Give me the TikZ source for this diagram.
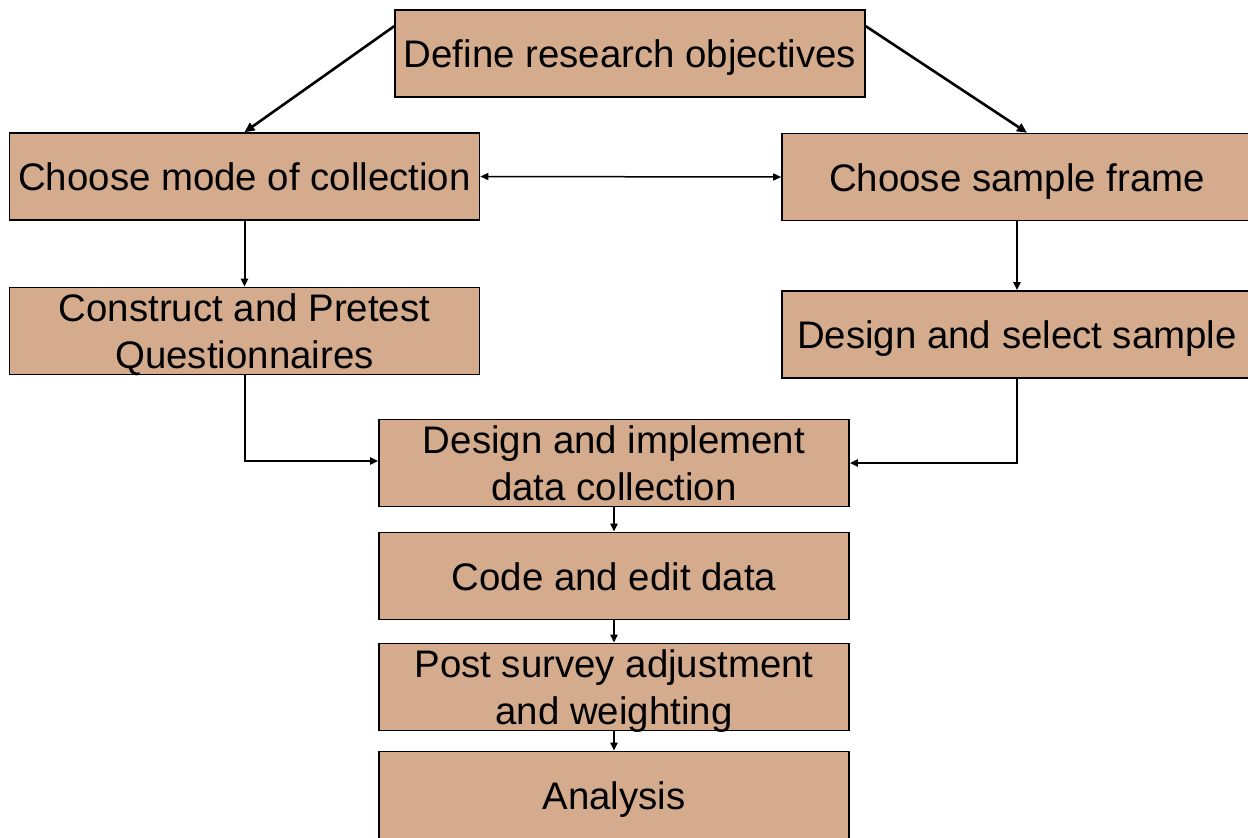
\documentclass[tikz,border=0pt]{standalone}
\usepackage{fontspec}
\setmainfont{Liberation Sans}
\usetikzlibrary{arrows.meta}
\definecolor{boxfill}{RGB}{212,171,141}
\begin{document}
\begin{tikzpicture}[x=0.5pt,y=-0.5pt,
  stepbox/.style={draw=black, line width=0.8pt, fill=boxfill,
    minimum width=235pt, minimum height=43.5pt, inner sep=0pt,
    align=center, font=\fontsize{19.2}{23.5}\selectfont},
  oneline/.style={text height=15pt, text depth=1pt},
  twoline/.style={text depth=0pt},
  flow/.style={-{Triangle[length=4pt,width=3.5pt]}, line width=1pt},
  bigflow/.style={-{Triangle[length=5pt,width=4.5pt]}, line width=1.3pt},
  ]
\useasboundingbox (0,0) rectangle (1248,837);
% process steps
\node[stepbox, oneline] (obj)    at (630,53.5)  {Define research objectives};
\node[stepbox, oneline] (mode)   at (244.5,176.5) {Choose mode of collection};
\node[stepbox, oneline] (frame)  at (1017,177)  {Choose sample frame};
\node[stepbox, twoline] (quest)  at (244.5,331) {Construct and Pretest\\Questionnaires};
\node[stepbox, oneline] (sample) at (1017,334.5) {Design and select sample};
\node[stepbox, twoline] (impl)   at (614,463)   {Design and implement\\data collection};
\node[stepbox, oneline] (code)   at (614,576)   {Code and edit data};
\node[stepbox, twoline] (adj)    at (614,687)   {Post survey adjustment\\and weighting};
\node[stepbox, oneline] (ana)    at (614,795)   {Analysis};
% connectors
\draw[bigflow] ([yshift=-8.5pt]obj.north west) -- (mode.north);
\draw[bigflow] ([yshift=-8.5pt]obj.north east) -- ([xshift=5pt]frame.north);
\draw[{Triangle[length=4pt,width=3.5pt]}-{Triangle[length=4pt,width=3.5pt]}, line width=0.75pt] (mode.east) -- (frame.west);
\draw[flow] (mode) -- (quest);
\draw[flow] (frame) -- (sample);
\draw[flow] (quest.south) |- ([yshift=1pt]impl.west);
\draw[flow] (sample.south) |- (impl.east);
\draw[flow] (impl) -- (code);
\draw[flow] (code) -- (adj);
\draw[flow] (adj) -- (ana);
\end{tikzpicture}
\end{document}
